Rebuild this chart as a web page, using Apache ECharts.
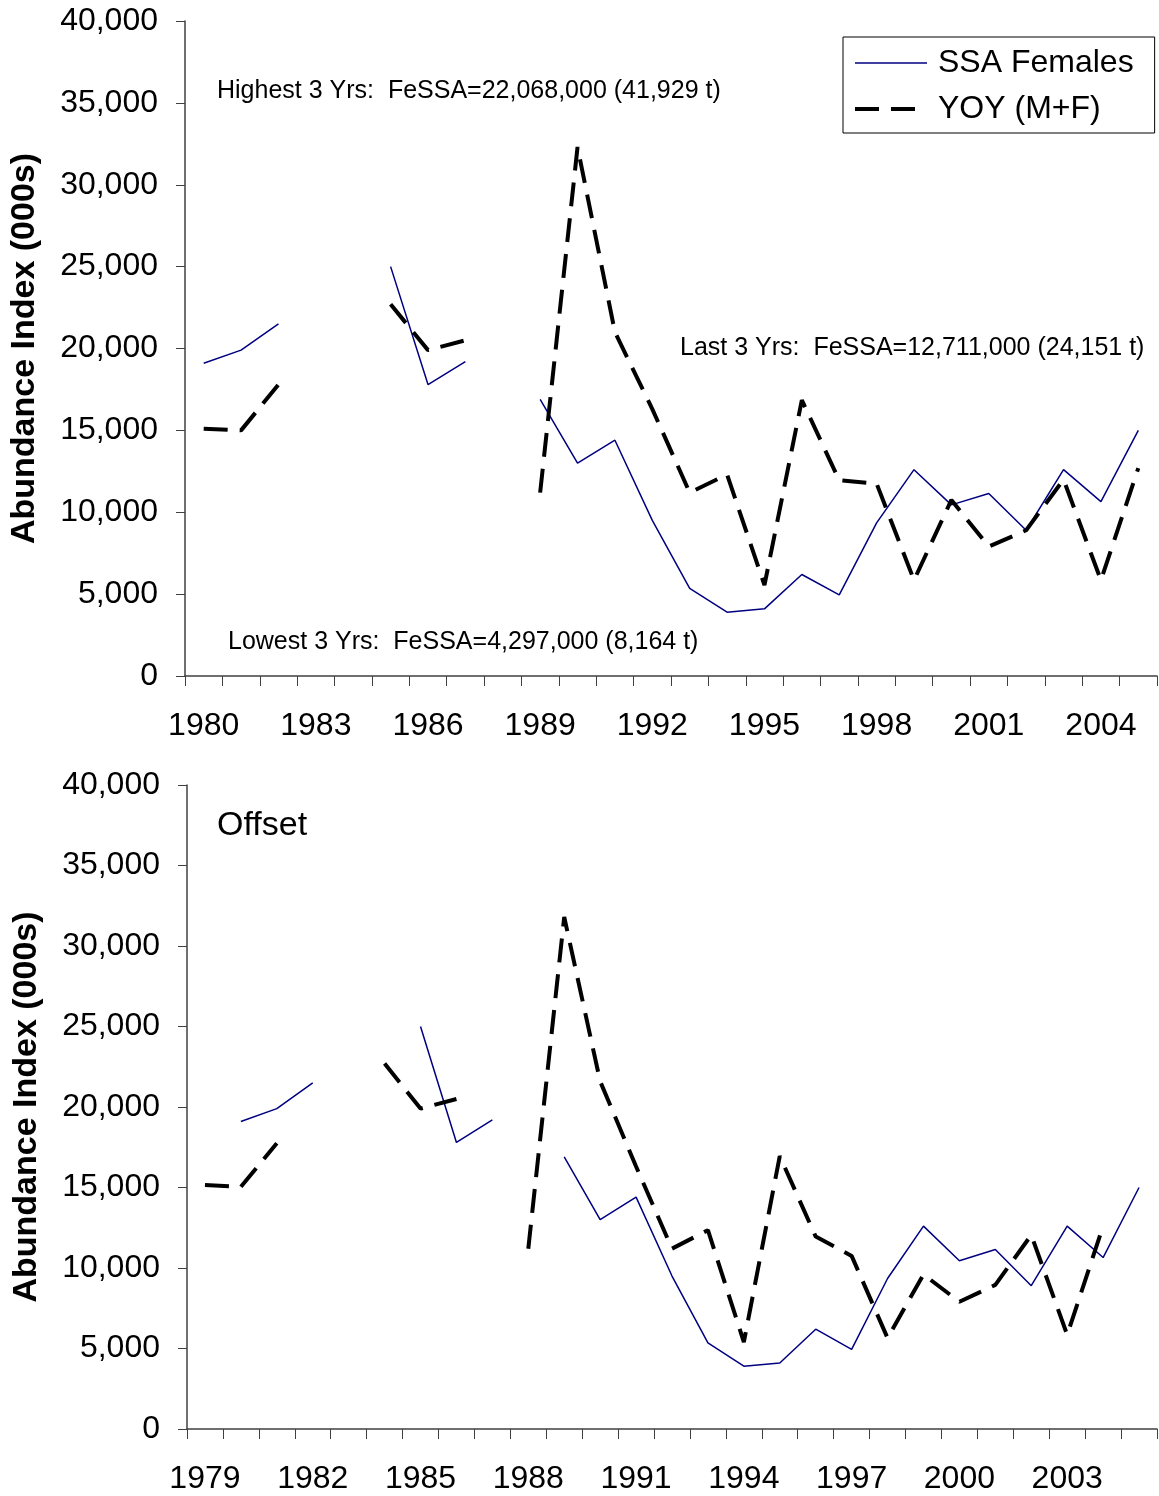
<!DOCTYPE html>
<html>
<head>
<meta charset="utf-8">
<script src="https://cdn.jsdelivr.net/npm/echarts@6/dist/echarts.min.js"></script>
<style>
  html, body { margin: 0; padding: 0; background: #fff; }
  #chart { width: 1159px; height: 1496px; }
</style>
</head>
<body>
<div id="chart"></div>
<script>
// ---- Data ----
const topYears = ['1980','1981','1982','1983','1984','1985','1986','1987','1988','1989','1990','1991','1992','1993','1994','1995','1996','1997','1998','1999','2000','2001','2002','2003','2004','2005'];
const bottomYears = ['1979','1980','1981','1982','1983','1984','1985','1986','1987','1988','1989','1990','1991','1992','1993','1994','1995','1996','1997','1998','1999','2000','2001','2002','2003','2004','2005'];
const topTickLabels = ['1980','1983','1986','1989','1992','1995','1998','2001','2004'];
const bottomTickLabels = ['1979','1982','1985','1988','1991','1994','1997','2000','2003'];

// SSA Females (by year 1980..2005)
const ssaFemales = [19100, 19900, 21500, null, null, 25000, 17800, 19200, null, 16900, 13000, 14400, 9500, 5350, 3900, 4100, 6200, 4950, 9350, 12600, 10450, 11150, 8900, 12600, 10650, 15000];
// SSA Females on the 1979..2005 axis of the offset panel
const ssaFemalesOffsetAxis = [null, 19100, 19900, 21500, null, null, 25000, 17800, 19200, null, 16900, 13000, 14400, 9500, 5350, 3900, 4100, 6200, 4950, 9350, 12600, 10450, 11150, 8900, 12600, 10650, 15000];
// YOY (M+F) top panel (1980..2005)
const yoyTop = [15100, 15000, 17800, null, null, 22700, 19900, 20500, null, 11200, 32300, 21000, 16300, 11200, 12300, 5550, 16850, 11950, 11750, 5850, 10750, 7900, 8900, 12000, 5850, 12700];
// YOY (M+F) offset panel (1979..2005)
const yoyOffset = [15150, 15050, 17750, null, null, 22700, 19900, 20500, null, 11200, 31800, 21600, 16300, 11200, 12350, 5400, 16950, 11950, 10750, 5650, 9600, 7900, 8950, 12050, 5850, 12600, null];

const yTicks = { min: 0, max: 40000, interval: 5000 };

const FONT = '"Liberation Sans", Arial, sans-serif';
const AXIS_COLOR = '#404040';
const SSA_COLOR = '#000080';

function fmt(v) { return Number(v).toLocaleString('en-US'); }

function makeXAxis(gridIndex, data, labels) {
  return {
    type: 'category', gridIndex: gridIndex, data: data, boundaryGap: true,
    axisLine: { show: true, lineStyle: { color: AXIS_COLOR, width: 1.5 } },
    axisTick: { show: true, interval: 0, length: 10, inside: false, lineStyle: { color: AXIS_COLOR, width: 1 } },
    axisLabel: {
      interval: function (i, v) { return labels.indexOf(v) >= 0; },
      fontSize: 32, fontFamily: FONT, color: '#000', margin: 34
    },
    splitLine: { show: false }
  };
}
function makeYAxis(gridIndex) {
  return {
    type: 'value', gridIndex: gridIndex, min: yTicks.min, max: yTicks.max, interval: yTicks.interval,
    axisLine: { show: true, lineStyle: { color: AXIS_COLOR, width: 1.5 } },
    axisTick: { show: true, length: 9, lineStyle: { color: AXIS_COLOR, width: 1 } },
    splitLine: { show: false },
    axisLabel: { fontSize: 32, fontFamily: FONT, color: '#000', margin: 27, formatter: fmt },
    name: 'Abundance Index (000s)', nameLocation: 'middle', nameRotate: 90, nameGap: 143,
    nameTextStyle: { fontSize: 34, fontWeight: 'bold', fontFamily: FONT, color: '#000' }
  };
}
function ssaSeries(xi, data) {
  return {
    name: 'SSA Females', type: 'line', xAxisIndex: xi, yAxisIndex: xi, data: data,
    symbol: 'none', connectNulls: false, silent: true,
    itemStyle: { color: SSA_COLOR },
    lineStyle: { color: SSA_COLOR, width: 1.5 }
  };
}
function yoySeries(xi, data) {
  return {
    name: 'YOY (M+F)', type: 'line', xAxisIndex: xi, yAxisIndex: xi, data: data,
    symbol: 'none', connectNulls: false, silent: true,
    itemStyle: { color: '#000' },
    lineStyle: { color: '#000', width: 4, type: [24, 12] }
  };
}

const chart = echarts.init(document.getElementById('chart'), null, { renderer: 'canvas' });
chart.setOption({
  animation: false,
  backgroundColor: '#fff',
  grid: [
    { left: 185, top: 21, width: 972, height: 655, containLabel: false },
    { left: 187, top: 785, width: 970, height: 644, containLabel: false }
  ],
  xAxis: [makeXAxis(0, topYears, topTickLabels), makeXAxis(1, bottomYears, bottomTickLabels)],
  yAxis: [makeYAxis(0), makeYAxis(1)],
  legend: {
    left: 843, top: 37, orient: 'vertical',
    itemWidth: 72, itemHeight: 20, itemGap: 14,
    padding: [10, 21, 8, 10],
    borderColor: '#000', borderWidth: 1,
    selectedMode: false,
    itemStyle: { opacity: 0 },
    lineStyle: { width: 'inherit' },
    textStyle: { fontSize: 32, fontFamily: FONT, color: '#000', padding: [0, 0, 0, 6] },
    data: ['SSA Females', 'YOY (M+F)']
  },
  graphic: [
    { type: 'text', x: 217, y: 91, silent: true, style: { text: 'Highest 3 Yrs:  FeSSA=22,068,000 (41,929 t)', fontSize: 25, fontFamily: FONT, fill: '#000', verticalAlign: 'middle' } },
    { type: 'text', x: 680, y: 348, silent: true, style: { text: 'Last 3 Yrs:  FeSSA=12,711,000 (24,151 t)', fontSize: 25, fontFamily: FONT, fill: '#000', verticalAlign: 'middle' } },
    { type: 'text', x: 228, y: 642, silent: true, style: { text: 'Lowest 3 Yrs:  FeSSA=4,297,000 (8,164 t)', fontSize: 25, fontFamily: FONT, fill: '#000', verticalAlign: 'middle' } },
    { type: 'text', x: 217, y: 826, silent: true, style: { text: 'Offset', fontSize: 34, fontFamily: FONT, fill: '#000', verticalAlign: 'middle' } }
  ],
  series: [
    ssaSeries(0, ssaFemales),
    yoySeries(0, yoyTop),
    ssaSeries(1, ssaFemalesOffsetAxis),
    yoySeries(1, yoyOffset)
  ]
});
</script>
</body>
</html>
